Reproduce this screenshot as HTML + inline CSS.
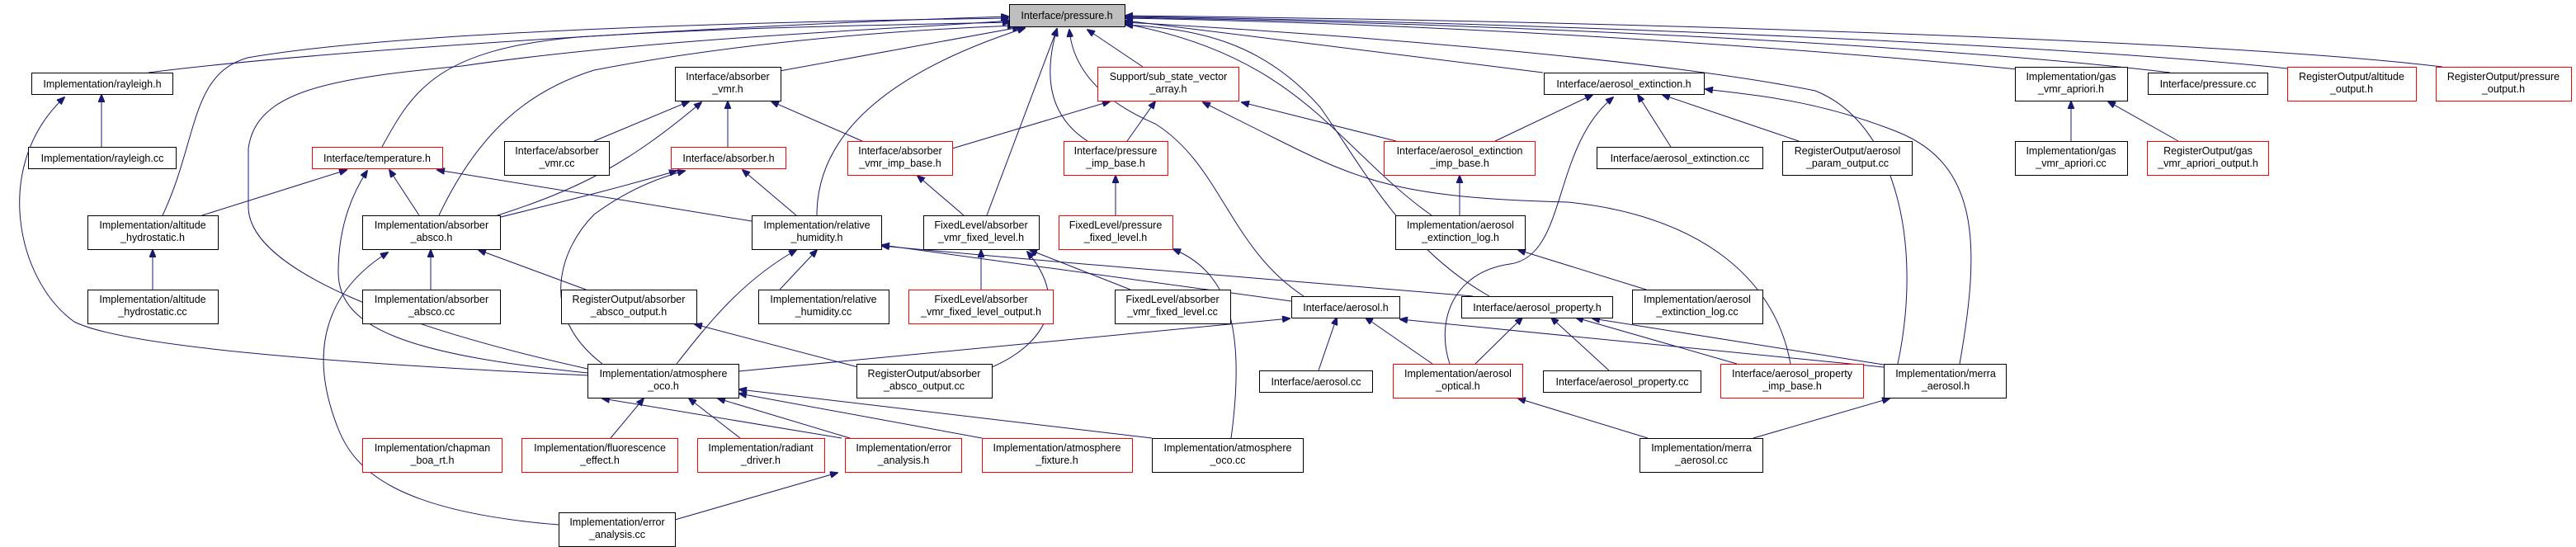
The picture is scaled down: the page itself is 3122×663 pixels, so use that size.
<!DOCTYPE html>
<html><head><meta charset="utf-8"><style>
html,body{margin:0;padding:0;background:#fff}
svg{display:block}
text{font-family:"Liberation Sans",sans-serif;font-size:12.5px;fill:#000;text-anchor:middle}
.n{fill:#fff;stroke:#000;stroke-width:1}
.r{fill:#fff;stroke:#ff0000;stroke-width:1}
.e{fill:none;stroke:#191970;stroke-width:1}
</style></head><body>
<svg width="3122" height="663" viewBox="0 0 3122 663" xmlns="http://www.w3.org/2000/svg">
<defs><marker id="a" markerWidth="10" markerHeight="8" refX="9" refY="4" orient="auto" markerUnits="userSpaceOnUse"><path d="M0,0 L10,4 L0,8 z" fill="#191970" stroke="#191970"/></marker></defs>
<g class="e" marker-end="url(#a)">
<path d="M180,88 C400,60 900,30 1222,20"/>
<path d="M197,261 C240,170 230,90 300,70 C500,35 1000,25 1222,22"/>
<path d="M463,178 C500,110 530,60 700,45 C900,32 1100,30 1224,27"/>
<path d="M532,261 C580,160 640,110 720,85 C900,50 1100,36 1230,31"/>
<path d="M712,447 C500,400 300,330 301,250 L301,180 C310,110 400,95 560,80 C800,45 1100,35 1224,25"/>
<path d="M945,86 L1236,33"/>
<path d="M990,261 C990,150 1100,80 1242,34"/>
<path d="M1196,261 L1281,35"/>
<path d="M1385,81 L1318,36"/>
<path d="M1318,171 C1270,140 1265,90 1281,35"/>
<path d="M1580,359 C1490,300 1480,200 1400,150 C1330,120 1300,80 1296,36"/>
<path d="M1870,88 L1364,25"/>
<path d="M1735,261 C1620,180 1580,70 1364,29"/>
<path d="M1805,359 C1700,300 1650,200 1600,130 C1530,50 1450,35 1364,30"/>
<path d="M2300,441 C2330,300 2300,150 2200,110 C2000,70 1600,40 1364,27"/>
<path d="M2445,84 C2200,60 1800,30 1364,22"/>
<path d="M2630,88 C2400,60 1900,30 1364,21"/>
<path d="M2772,83 C2500,55 1900,28 1364,20"/>
<path d="M2960,81 C2700,50 2000,26 1364,19"/>
<path d="M123,178 L123,115"/>
<path d="M712,455 C400,440 150,420 90,390 C20,340 -10,200 78,118"/>
<path d="M245,261 L420,206"/>
<path d="M508,261 L472,206"/>
<path d="M712,452 C500,430 410,400 410,330 C410,270 430,230 445,207"/>
<path d="M911,268 L530,206"/>
<path d="M185,351 L185,303"/>
<path d="M522,351 L522,303"/>
<path d="M710,351 L580,303"/>
<path d="M677,636 C480,620 430,570 410,520 C370,420 400,350 470,306"/>
<path d="M720,171 L835,123"/>
<path d="M600,262 C700,230 760,200 850,124"/>
<path d="M603,264 C700,240 760,225 820,207"/>
<path d="M882,178 L882,123"/>
<path d="M1045,171 L935,123"/>
<path d="M965,261 L900,206"/>
<path d="M730,441 C650,380 680,300 720,260 C760,230 800,215 830,207"/>
<path d="M1154,180 L1345,123"/>
<path d="M1366,171 L1400,123"/>
<path d="M1692,171 L1505,124"/>
<path d="M2170,441 C2150,330 2050,260 1900,245 C1700,240 1650,220 1550,170 L1458,124"/>
<path d="M1168,261 L1112,213"/>
<path d="M1352,261 L1352,213"/>
<path d="M945,351 L990,303"/>
<path d="M820,441 C860,390 900,340 965,303"/>
<path d="M1565,365 L1069,297"/>
<path d="M1785,359 C1500,335 1300,320 1069,298"/>
<path d="M1189,351 L1189,303"/>
<path d="M1370,351 L1248,303"/>
<path d="M1202,445 C1260,420 1300,370 1245,305"/>
<path d="M1040,445 L842,393"/>
<path d="M895,450 L1563,386"/>
<path d="M1492,531 C1510,400 1490,330 1422,302"/>
<path d="M1598,449 L1620,385"/>
<path d="M1736,441 L1655,385"/>
<path d="M2283,445 L1697,387"/>
<path d="M1020,531 L730,483"/>
<path d="M740,531 L780,483"/>
<path d="M897,531 L835,483"/>
<path d="M1030,531 L870,483"/>
<path d="M1190,531 L896,477"/>
<path d="M1396,531 L896,472"/>
<path d="M818,630 L1015,573"/>
<path d="M1812,171 L1930,115"/>
<path d="M1757,441 C1740,390 1760,330 1830,320 C1900,310 1880,180 1955,118"/>
<path d="M2025,178 L1985,115"/>
<path d="M2180,171 L2015,115"/>
<path d="M2375,441 C2400,300 2400,200 2300,160 C2200,120 2120,115 2067,108"/>
<path d="M1769,261 L1769,213"/>
<path d="M1995,351 L1840,303"/>
<path d="M1788,441 L1845,385"/>
<path d="M1950,449 L1880,385"/>
<path d="M2105,441 L1910,385"/>
<path d="M2283,442 L1930,386"/>
<path d="M1997,531 L1840,483"/>
<path d="M2125,531 L2290,483"/>
<path d="M2510,171 L2510,123"/>
<path d="M2640,171 L2555,123"/>
</g>

<rect x="1223.5" y="5.5" width="140" height="27" fill="#bfbfbf" stroke="#000"/><text x="1293" y="23">Interface/pressure.h</text>

<rect class="n" x="38.5" y="88.5" width="171" height="26"/><text x="124" y="106">Implementation/rayleigh.h</text>
<rect class="n" x="34.5" y="178.5" width="179" height="26"/><text x="124" y="196">Implementation/rayleigh.cc</text>
<rect class="r" x="378.5" y="178.5" width="158" height="26"/><text x="457" y="196">Interface/temperature.h</text>
<rect class="n" x="611.5" y="171.5" width="127" height="41"/><text x="675" y="187">Interface/absorber</text><text x="675" y="202">_vmr.cc</text>
<rect class="n" x="106.5" y="261.5" width="158" height="41"/><text x="185" y="277">Implementation/altitude</text><text x="185" y="292">_hydrostatic.h</text>
<rect class="n" x="439.5" y="261.5" width="167" height="41"/><text x="523" y="277">Implementation/absorber</text><text x="523" y="292">_absco.h</text>
<rect class="n" x="106.5" y="351.5" width="158" height="41"/><text x="185" y="367">Implementation/altitude</text><text x="185" y="382">_hydrostatic.cc</text>
<rect class="n" x="439.5" y="351.5" width="167" height="41"/><text x="523" y="367">Implementation/absorber</text><text x="523" y="382">_absco.cc</text>
<rect class="n" x="680.5" y="351.5" width="164" height="41"/><text x="762" y="367">RegisterOutput/absorber</text><text x="762" y="382">_absco_output.h</text>
<rect class="n" x="712.5" y="441.5" width="183" height="41"/><text x="804" y="457">Implementation/atmosphere</text><text x="804" y="472">_oco.h</text>
<rect class="r" x="439.5" y="531.5" width="169" height="41"/><text x="524" y="547">Implementation/chapman</text><text x="524" y="562">_boa_rt.h</text>
<rect class="r" x="632.5" y="531.5" width="189" height="41"/><text x="727" y="547">Implementation/fluorescence</text><text x="727" y="562">_effect.h</text>
<rect class="n" x="677.5" y="621.5" width="141" height="41"/><text x="748" y="637">Implementation/error</text><text x="748" y="652">_analysis.cc</text>

<rect class="n" x="818.5" y="81.5" width="128" height="41"/><text x="882" y="97">Interface/absorber</text><text x="882" y="112">_vmr.h</text>
<rect class="r" x="1330.5" y="81.5" width="171" height="41"/><text x="1416" y="97">Support/sub_state_vector</text><text x="1416" y="112">_array.h</text>
<rect class="r" x="813.5" y="178.5" width="139" height="26"/><text x="883" y="196">Interface/absorber.h</text>
<rect class="r" x="1027.5" y="171.5" width="127" height="41"/><text x="1091" y="187">Interface/absorber</text><text x="1091" y="202">_vmr_imp_base.h</text>
<rect class="r" x="1289.5" y="171.5" width="126" height="41"/><text x="1352" y="187">Interface/pressure</text><text x="1352" y="202">_imp_base.h</text>
<rect class="n" x="911.5" y="261.5" width="157" height="41"/><text x="990" y="277">Implementation/relative</text><text x="990" y="292">_humidity.h</text>
<rect class="n" x="1119.5" y="261.5" width="140" height="41"/><text x="1189" y="277">FixedLevel/absorber</text><text x="1189" y="292">_vmr_fixed_level.h</text>
<rect class="r" x="1283.5" y="261.5" width="138" height="41"/><text x="1352" y="277">FixedLevel/pressure</text><text x="1352" y="292">_fixed_level.h</text>
<rect class="n" x="919.5" y="351.5" width="158" height="41"/><text x="998" y="367">Implementation/relative</text><text x="998" y="382">_humidity.cc</text>
<rect class="r" x="1101.5" y="351.5" width="175" height="41"/><text x="1189" y="367">FixedLevel/absorber</text><text x="1189" y="382">_vmr_fixed_level_output.h</text>
<rect class="n" x="1351.5" y="351.5" width="140" height="41"/><text x="1421" y="367">FixedLevel/absorber</text><text x="1421" y="382">_vmr_fixed_level.cc</text>
<rect class="n" x="1565.5" y="359.5" width="131" height="26"/><text x="1631" y="377">Interface/aerosol.h</text>
<rect class="n" x="1038.5" y="441.5" width="164" height="41"/><text x="1120" y="457">RegisterOutput/absorber</text><text x="1120" y="472">_absco_output.cc</text>
<rect class="n" x="1526.5" y="449.5" width="137" height="26"/><text x="1595" y="467">Interface/aerosol.cc</text>
<rect class="r" x="845.5" y="531.5" width="154" height="41"/><text x="922" y="547">Implementation/radiant</text><text x="922" y="562">_driver.h</text>
<rect class="r" x="1024.5" y="531.5" width="141" height="41"/><text x="1095" y="547">Implementation/error</text><text x="1095" y="562">_analysis.h</text>
<rect class="r" x="1190.5" y="531.5" width="182" height="41"/><text x="1281" y="547">Implementation/atmosphere</text><text x="1281" y="562">_fixture.h</text>
<rect class="n" x="1396.5" y="531.5" width="183" height="41"/><text x="1488" y="547">Implementation/atmosphere</text><text x="1488" y="562">_oco.cc</text>

<rect class="n" x="1871.5" y="88.5" width="194" height="26"/><text x="1968" y="106">Interface/aerosol_extinction.h</text>
<rect class="r" x="1677.5" y="171.5" width="183" height="41"/><text x="1769" y="187">Interface/aerosol_extinction</text><text x="1769" y="202">_imp_base.h</text>
<rect class="n" x="1935.5" y="178.5" width="201" height="26"/><text x="2036" y="196">Interface/aerosol_extinction.cc</text>
<rect class="n" x="2160.5" y="171.5" width="157" height="41"/><text x="2239" y="187">RegisterOutput/aerosol</text><text x="2239" y="202">_param_output.cc</text>
<rect class="n" x="1691.5" y="261.5" width="157" height="41"/><text x="1770" y="277">Implementation/aerosol</text><text x="1770" y="292">_extinction_log.h</text>
<rect class="n" x="1978.5" y="351.5" width="158" height="41"/><text x="2057" y="367">Implementation/aerosol</text><text x="2057" y="382">_extinction_log.cc</text>
<rect class="n" x="1771.5" y="359.5" width="183" height="26"/><text x="1863" y="377">Interface/aerosol_property.h</text>
<rect class="r" x="1688.5" y="441.5" width="157" height="41"/><text x="1767" y="457">Implementation/aerosol</text><text x="1767" y="472">_optical.h</text>
<rect class="n" x="1870.5" y="449.5" width="191" height="26"/><text x="1966" y="467">Interface/aerosol_property.cc</text>
<rect class="r" x="2085.5" y="441.5" width="173" height="41"/><text x="2172" y="457">Interface/aerosol_property</text><text x="2172" y="472">_imp_base.h</text>
<rect class="n" x="2283.5" y="441.5" width="148" height="41"/><text x="2358" y="457">Implementation/merra</text><text x="2358" y="472">_aerosol.h</text>
<rect class="n" x="1987.5" y="531.5" width="149" height="41"/><text x="2062" y="547">Implementation/merra</text><text x="2062" y="562">_aerosol.cc</text>

<rect class="n" x="2442.5" y="81.5" width="136" height="41"/><text x="2510" y="97">Implementation/gas</text><text x="2510" y="112">_vmr_apriori.h</text>
<rect class="n" x="2603.5" y="88.5" width="145" height="26"/><text x="2676" y="106">Interface/pressure.cc</text>
<rect class="r" x="2772.5" y="81.5" width="156" height="41"/><text x="2850" y="97">RegisterOutput/altitude</text><text x="2850" y="112">_output.h</text>
<rect class="r" x="2952.5" y="81.5" width="164" height="41"/><text x="3034" y="97">RegisterOutput/pressure</text><text x="3034" y="112">_output.h</text>
<rect class="n" x="2442.5" y="171.5" width="136" height="41"/><text x="2510" y="187">Implementation/gas</text><text x="2510" y="202">_vmr_apriori.cc</text>
<rect class="r" x="2602.5" y="171.5" width="147" height="41"/><text x="2676" y="187">RegisterOutput/gas</text><text x="2676" y="202">_vmr_apriori_output.h</text>
</svg>
</body></html>
